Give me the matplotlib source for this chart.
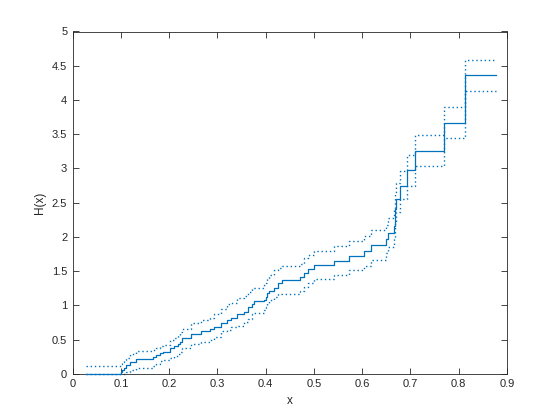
import numpy as np
import matplotlib
matplotlib.use("Agg")
from matplotlib import pyplot as plt

# step locations (value holds from each x until the next one)
x_steps = [0.027, 0.100, 0.103, 0.106, 0.110, 0.118, 0.131, 0.167, 0.173,
           0.180, 0.187, 0.201, 0.210, 0.218, 0.222, 0.227, 0.246, 0.265,
           0.284, 0.293, 0.308, 0.320, 0.329, 0.341, 0.356, 0.363, 0.372,
           0.375, 0.397, 0.400, 0.403, 0.407, 0.417, 0.426, 0.433, 0.471,
           0.479, 0.488, 0.500, 0.541, 0.572, 0.603, 0.618, 0.650, 0.654,
           0.666, 0.668, 0.669, 0.671, 0.678, 0.694, 0.709, 0.770, 0.814]
x_end = 0.877

hazard = [0.00, 0.03, 0.06, 0.09, 0.13, 0.17, 0.21, 0.24, 0.27,
          0.30, 0.32, 0.37, 0.40, 0.44, 0.47, 0.53, 0.58, 0.62,
          0.65, 0.69, 0.74, 0.79, 0.81, 0.87, 0.90, 0.98, 1.02,
          1.06, 1.08, 1.12, 1.18, 1.21, 1.26, 1.32, 1.37, 1.41,
          1.47, 1.53, 1.59, 1.65, 1.72, 1.79, 1.88, 1.97, 2.05,
          2.16, 2.29, 2.41, 2.56, 2.75, 2.97, 3.26, 3.67, 4.36]

upper = [0.11, 0.14, 0.17, 0.20, 0.23, 0.29, 0.33, 0.35, 0.37,
         0.40, 0.42, 0.50, 0.53, 0.57, 0.61, 0.65, 0.74, 0.78,
         0.81, 0.88, 0.94, 1.02, 1.04, 1.10, 1.14, 1.19, 1.24,
         1.25, 1.29, 1.33, 1.40, 1.44, 1.51, 1.54, 1.57, 1.61,
         1.69, 1.74, 1.79, 1.87, 1.94, 2.01, 2.10, 2.18, 2.27,
         2.40, 2.55, 2.66, 2.78, 2.96, 3.20, 3.49, 3.89, 4.59]

lower = [0.00, 0.00, 0.00, 0.00, 0.02, 0.05, 0.09, 0.12, 0.14,
         0.18, 0.20, 0.23, 0.26, 0.29, 0.32, 0.37, 0.44, 0.47,
         0.50, 0.54, 0.62, 0.64, 0.68, 0.70, 0.76, 0.80, 0.87,
         0.89, 0.93, 0.98, 1.03, 1.08, 1.12, 1.17, 1.17, 1.21,
         1.27, 1.33, 1.38, 1.44, 1.51, 1.58, 1.66, 1.76, 1.85,
         1.97, 2.10, 2.22, 2.37, 2.55, 2.75, 3.03, 3.44, 4.13]

xticks = [0, 0.1, 0.2, 0.3, 0.4, 0.5, 0.6, 0.7, 0.8, 0.9]
xtick_labels = ["0", "0.1", "0.2", "0.3", "0.4", "0.5", "0.6", "0.7", "0.8", "0.9"]
yticks = [0, 0.5, 1, 1.5, 2, 2.5, 3, 3.5, 4, 4.5, 5]
ytick_labels = ["0", "0.5", "1", "1.5", "2", "2.5", "3", "3.5", "4", "4.5", "5"]

blue = "#0072BD"
dark = "#262626"

plt.rcParams['font.family'] = ['Liberation Sans', 'DejaVu Sans']
fig = plt.figure(figsize=(5.6, 4.2), dpi=100)
ax = fig.add_axes([0.13, 0.11, 0.775, 0.815])

xx = np.append(x_steps, x_end)
ax.step(xx, np.append(hazard, hazard[-1]), where="post",
        color=blue, linewidth=0.9, clip_on=False, zorder=3)
ax.step(xx, np.append(upper, upper[-1]), where="post",
        color=blue, linewidth=1.0, linestyle=(0, (1, 2)))
ax.step(xx, np.append(lower, lower[-1]), where="post",
        color=blue, linewidth=1.0, linestyle=(0, (1, 2)), clip_on=False)

ax.set_xlim(0, 0.9)
ax.set_ylim(0, 5)
ax.set_xticks(xticks)
ax.set_xticklabels(xtick_labels)
ax.set_yticks(yticks)
ax.set_yticklabels(ytick_labels)
ax.tick_params(direction="in", length=4, width=0.6, colors=dark,
               labelsize=8, top=True, right=True, pad=4)
for sp in ax.spines.values():
    sp.set_color(dark)
    sp.set_linewidth(0.6)
ax.set_xlabel("x", fontsize=8.5, color=dark)
ax.set_ylabel("H(x)", fontsize=8.5, color=dark)

fig.savefig("out.png", dpi=100)
